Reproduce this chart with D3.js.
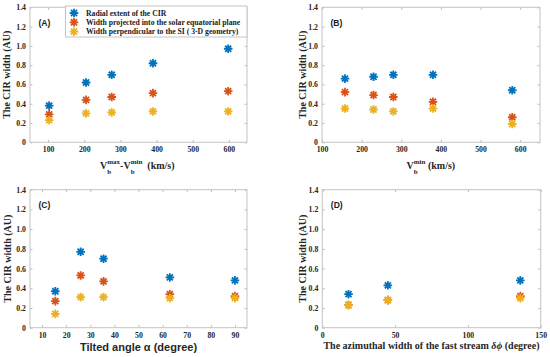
<!DOCTYPE html>
<html>
<head>
<meta charset="utf-8">
<script src="https://cdn.jsdelivr.net/npm/d3@7"></script>
<style>
  body { margin: 0; background: #fff; }
  svg { display: block; }
</style>
</head>
<body>
<div id="container"></div>
<script>
/* CONSTANTS AND GLOBALS */
const width = 550,
  height = 357;

const seriesNames = [
  "Radial extent of the CIR",
  "Width projected into the solar equatorial plane",
  "Width perpendicular to the SI ( 3-D geometry)"
];
const colors = ["#0072BD", "#D95319", "#EDB120"];

// panel A: Vmax - Vmin
const xA = [103, 205, 276, 390, 598];
const radialA = [0.38, 0.62, 0.70, 0.82, 0.97];
const projA = [0.29, 0.44, 0.47, 0.51, 0.53];
const perpA = [0.23, 0.30, 0.31, 0.32, 0.32];

// panel B: Vmin
const xB = [158, 230, 280, 380, 580];
const radialB = [0.66, 0.68, 0.70, 0.70, 0.54];
const projB = [0.52, 0.49, 0.47, 0.42, 0.26];
const perpB = [0.35, 0.34, 0.32, 0.35, 0.19];

// panel C: tilted angle
const xC = [15.5, 26, 35.5, 63, 90];
const radialC = [0.37, 0.77, 0.70, 0.51, 0.48];
const projC = [0.27, 0.53, 0.47, 0.34, 0.32];
const perpC = [0.14, 0.31, 0.31, 0.30, 0.30];

// panel D: azimuthal width
const xD = [18, 45, 136];
const radialD = [0.34, 0.43, 0.48];
const projD = [0.23, 0.28, 0.32];
const perpD = [0.23, 0.28, 0.30];

const yTicks = [0, 0.2, 0.4, 0.6, 0.8, 1.0, 1.2, 1.4];

const serif = "'Liberation Serif', 'Times New Roman', serif";
const sans = "'Liberation Sans', Arial, sans-serif";

const svg = d3.select("#container")
  .append("svg")
  .attr("width", width)
  .attr("height", height);

// 8-spoke asterisk marker
function star(r) {
  const d = r * Math.SQRT1_2;
  return `M0,${-r}L0,${r}M${-r},0L${r},0M${-d},${-d}L${d},${d}M${-d},${d}L${d},${-d}`;
}
const markR = 4.3, markW = 1.8;

const panels = [
  { id: "(A)", xs: xA, series: [radialA, projA, perpA], xDomain: [50, 650], xTicks: [100, 200, 300, 400, 500, 600],
    left: 30, right: 247, top: 7.3, bottom: 142.3, ylabX: 10 },
  { id: "(B)", xs: xB, series: [radialB, projB, perpB], xDomain: [100, 650], xTicks: [100, 200, 300, 400, 500, 600],
    left: 322, right: 540, top: 7.3, bottom: 142.3, ylabX: 305.5 },
  { id: "(C)", xs: xC, series: [radialC, projC, perpC], xDomain: [5, 95], xTicks: [10, 20, 30, 40, 50, 60, 70, 80, 90],
    left: 30, right: 247, top: 189.7, bottom: 327.7, ylabX: 11 },
  { id: "(D)", xs: xD, series: [radialD, projD, perpD], xDomain: [0, 150], xTicks: [0, 50, 100, 150],
    left: 322.3, right: 540.7, top: 189.7, bottom: 327.7, ylabX: 305.5 }
];

panels.forEach(p => {
  const x = d3.scaleLinear().domain(p.xDomain).range([p.left, p.right]);
  const y = d3.scaleLinear().domain([0, 1.4]).range([p.bottom, p.top]);
  const g = svg.append("g");

  const fmt = d => d === 0 ? "0" : d3.format(".1f")(d);

  const axes = [
    g.append("g").attr("transform", `translate(0,${p.bottom})`)
      .call(d3.axisBottom(x).tickValues(p.xTicks).tickSizeInner(-2.5).tickSizeOuter(0).tickPadding(4.3)),
    g.append("g").attr("transform", `translate(${p.left},0)`)
      .call(d3.axisLeft(y).tickValues(yTicks).tickFormat(fmt).tickSizeInner(-2.5).tickSizeOuter(0).tickPadding(4)),
    g.append("g").attr("transform", `translate(0,${p.top})`)
      .call(d3.axisTop(x).tickValues(p.xTicks).tickFormat("").tickSizeInner(-2.5).tickSizeOuter(0)),
    g.append("g").attr("transform", `translate(${p.right},0)`)
      .call(d3.axisRight(y).tickValues(yTicks).tickFormat("").tickSizeInner(-2.5).tickSizeOuter(0))
  ];
  axes.forEach(a => {
    a.select(".domain").remove();
    a.selectAll(".tick line").attr("stroke", "#bdbdbd");
    a.selectAll(".tick text")
      .attr("fill", "#262626")
      .style("font-family", serif)
      .style("font-weight", "bold")
      .style("font-size", "7.8px");
  });

  g.append("rect")
    .attr("x", p.left).attr("y", p.top)
    .attr("width", p.right - p.left).attr("height", p.bottom - p.top)
    .attr("fill", "none")
    .attr("stroke", "#c4c4c4")
    .attr("stroke-width", 1);

  // markers
  p.series.forEach((vals, si) => {
    g.selectAll(null)
      .data(vals)
      .enter().append("path")
      .attr("d", star(markR))
      .attr("transform", (d, i) => `translate(${x(p.xs[i])},${y(d)})`)
      .attr("stroke", colors[si])
      .attr("stroke-width", markW)
      .attr("fill", "none");
  });

  // panel tag
  g.append("text")
    .attr("x", p.left + 8.5)
    .attr("y", p.top + 18.3)
    .style("font-family", sans)
    .style("font-weight", "bold")
    .style("font-size", "8.6px")
    .attr("fill", "#1a1a1a")
    .text(p.id);

  // y label
  g.append("text")
    .attr("transform", `translate(${p.ylabX},${(p.top + p.bottom) / 2}) rotate(-90)`)
    .attr("text-anchor", "middle")
    .style("font-family", serif)
    .style("font-weight", "bold")
    .style("font-size", "10px")
    .attr("fill", "#262626")
    .text("The CIR width (AU)");
});

// legend in panel A
const leg = svg.append("g");
leg.append("rect")
  .attr("x", 65.5).attr("y", 6)
  .attr("width", 181.5).attr("height", 31)
  .attr("fill", "#fff")
  .attr("stroke", "#c4c4c4")
  .attr("stroke-width", 1);
seriesNames.forEach((name, i) => {
  const cy = 13 + i * 9.3;
  leg.append("path")
    .attr("d", star(markR))
    .attr("transform", `translate(74,${cy})`)
    .attr("stroke", colors[i])
    .attr("stroke-width", markW)
    .attr("fill", "none");
  leg.append("text")
    .attr("x", 86)
    .attr("y", cy + 2.7)
    .style("font-family", serif)
    .style("font-weight", "bold")
    .style("font-size", "7.7px")
    .attr("fill", "#1a1a1a")
    .text(name);
});

// x label with stacked sub/superscripts
function stackedLabel(parent, startX, baseY, parts) {
  let cx = startX;
  const grp = parent.append("g")
    .style("font-family", serif)
    .style("font-weight", "bold")
    .attr("fill", "#262626");
  parts.forEach(pt => {
    if (pt.sup !== undefined) {
      const a = grp.append("text").attr("x", cx).attr("y", baseY - 5).style("font-size", "7px").text(pt.sup);
      const b = grp.append("text").attr("x", cx).attr("y", baseY + 5.5).style("font-size", "7px").text(pt.sub);
      cx += Math.max(a.node().getComputedTextLength(), b.node().getComputedTextLength());
    } else {
      const t = grp.append("text").attr("x", cx).attr("y", baseY).style("font-size", "10px")
        .attr("xml:space", "preserve").text(pt.t);
      cx += t.node().getComputedTextLength();
    }
  });
}

stackedLabel(svg, 100, 168.5, [
  { t: "V" }, { sup: "max", sub: "b" }, { t: "-V" }, { sup: "min", sub: "b" }, { t: "  (km/s)" }
]);
stackedLabel(svg, 406.5, 168.5, [
  { t: "V" }, { sup: "min", sub: "b" }, { t: " (km/s)" }
]);

svg.append("text")
  .attr("x", 138.5)
  .attr("y", 350.5)
  .attr("text-anchor", "middle")
  .style("font-family", sans)
  .style("font-weight", "bold")
  .style("font-size", "11px")
  .attr("fill", "#262626")
  .text("Tilted angle \u03B1 (degree)");

const dl = svg.append("text")
  .attr("x", 431.5)
  .attr("y", 348.5)
  .attr("text-anchor", "middle")
  .style("font-family", serif)
  .style("font-weight", "bold")
  .style("font-size", "10px")
  .attr("fill", "#262626");
dl.append("tspan").text("The azimuthal width of the fast stream ");
dl.append("tspan").style("font-style", "italic").text("\u03B4\u03D5");
dl.append("tspan").text(" (degree)");
</script>
</body>
</html>
